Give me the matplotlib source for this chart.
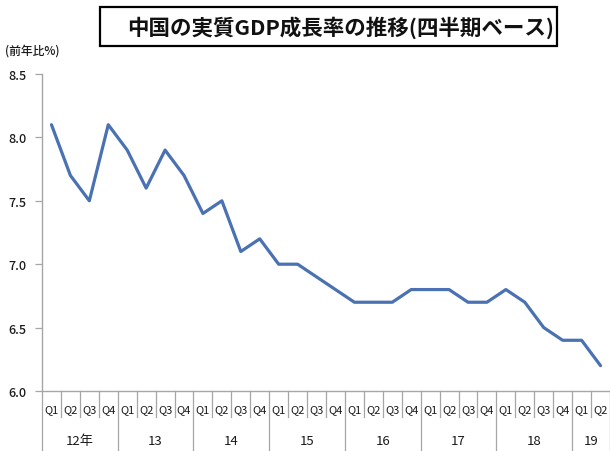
import matplotlib
matplotlib.use("Agg")
import matplotlib.pyplot as plt
from matplotlib.patches import Rectangle
from matplotlib.transforms import blended_transform_factory

plt.rcParams['font.family'] = ['Noto Sans CJK JP', 'DejaVu Sans']

years = ["12年", "13", "14", "15", "16", "17", "18", "19"]
quarters_per_year = [4, 4, 4, 4, 4, 4, 4, 2]
quarter_labels = ["Q1", "Q2", "Q3", "Q4"]
growth = [8.1, 7.7, 7.5, 8.1,
          7.9, 7.6, 7.9, 7.7,
          7.4, 7.5, 7.1, 7.2,
          7.0, 7.0, 6.9, 6.8,
          6.7, 6.7, 6.7, 6.8,
          6.8, 6.8, 6.7, 6.7,
          6.8, 6.7, 6.5, 6.4,
          6.4, 6.2]
yticks = [6.0, 6.5, 7.0, 7.5, 8.0, 8.5]

W, H = 610, 452
fig = plt.figure(figsize=(W / 100, H / 100), dpi=100)
ax_left, ax_right, ax_bottom, ax_top = 42, 610, 392, 75
ax = fig.add_axes([ax_left / W, 1 - ax_bottom / H,
                   (ax_right - ax_left) / W, (ax_bottom - ax_top) / H])

gray = "#a6a6a6"
text_color = "#1a1a1a"
xs = list(range(len(growth)))
ax.plot(xs, growth, color="#4a72b2", lw=2.3, solid_joinstyle="round",
        solid_capstyle="round", zorder=3)

ax.set_xlim(-0.5, len(growth) - 0.5)
ax.set_ylim(yticks[0], yticks[-1])
ax.set_yticks(yticks)
ax.set_yticklabels([f"{v:.1f}" for v in yticks], fontsize=9,
                   color=text_color, fontweight="medium")
ax.tick_params(axis="y", length=5, width=0.9, color=gray, pad=6)
ax.set_xticks([])

for side in ("top", "right"):
    ax.spines[side].set_visible(False)
for side in ("left", "bottom"):
    ax.spines[side].set_color(gray)
    ax.spines[side].set_linewidth(1.0)

# Category axis: quarter labels, year groups and separators
axh = ax_bottom - ax_top
trans = blended_transform_factory(ax.transData, ax.transAxes)
q_sep_bottom = -(418 - ax_bottom) / axh
y_sep_bottom = -(H - ax_bottom) / axh
q_label_y = -(410 - ax_bottom) / axh
y_label_y = -(442 - ax_bottom) / axh

idx = 0
boundaries = [-0.5]
for yr, nq in zip(years, quarters_per_year):
    for q in range(nq):
        ax.text(idx + q, q_label_y, quarter_labels[q], transform=trans,
                ha="center", va="center", fontsize=8, color=text_color)
    ax.text(idx + (nq - 1) / 2, y_label_y, yr, transform=trans,
            ha="center", va="center", fontsize=9.5, color=text_color)
    idx += nq
    boundaries.append(idx - 0.5)

for i in range(len(growth) + 1):
    xb = i - 0.5
    bottom = y_sep_bottom if xb in boundaries else q_sep_bottom
    ax.plot([xb, xb], [0, bottom], transform=trans, color=gray, lw=0.9,
            clip_on=False)

# Title in a framed box
fig.patches.append(Rectangle((100 / W, 1 - 47 / H), (557 - 100) / W, 39 / H,
                             transform=fig.transFigure, fill=False,
                             edgecolor="black", linewidth=1.6))
fig.text(341 / W, 1 - 28 / H, "中国の実質GDP成長率の推移(四半期ベース)",
         ha="center", va="center", fontsize=15.5, fontweight="bold",
         color="#111111")

fig.text(5 / W, 1 - 51 / H, "(前年比%)", ha="left", va="center",
         fontsize=8.5, color=text_color, fontweight="medium")

fig.savefig("out.png", dpi=100, facecolor="white")
